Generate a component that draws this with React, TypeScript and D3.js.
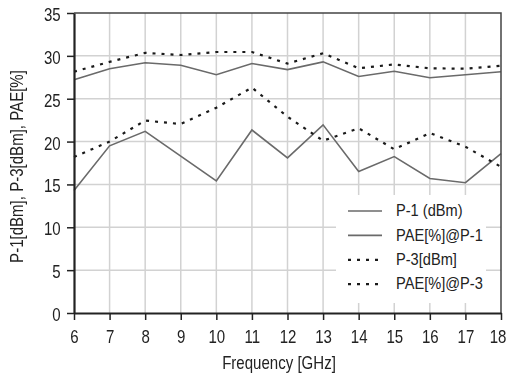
import React, { useEffect, useRef } from 'react';
import * as d3 from 'd3';

const freqs = [6, 7, 8, 9, 10, 11, 12, 13, 14, 15, 16, 17, 18];
const p1 = [27.2, 28.5, 29.2, 28.9, 27.8, 29.1, 28.4, 29.3, 27.6, 28.2, 27.45, 27.8, 28.15];
const paeP1 = [14.3, 19.5, 21.2, 18.3, 15.4, 21.35, 18.1, 21.95, 16.5, 18.25, 15.7, 15.2, 18.6];
const p3 = [28.15, 29.3, 30.35, 30.1, 30.45, 30.45, 29.1, 30.3, 28.55, 29.0, 28.55, 28.5, 28.85];
const paeP3 = [18.2, 20.0, 22.45, 22.05, 23.95, 26.3, 22.9, 20.1, 21.55, 19.1, 21.0, 19.4, 17.05];
const yTicks = [0, 5, 10, 15, 20, 25, 30, 35];
const seriesNames = ['P-1 (dBm)', 'PAE[%]@P-1', 'P-3[dBm]', 'PAE[%]@P-3'];

const FONT = '"Liberation Sans", Arial, sans-serif';
const SX = 0.86; // horizontal squeeze to mimic the narrow font

const App = () => {
  const svgRef = useRef<SVGSVGElement>(null);

  useEffect(() => {
    const width = 506;
    const height = 379;
    const margin = { top: 13, right: 5, bottom: 66, left: 74 };
    const innerWidth = width - margin.left - margin.right;
    const innerHeight = height - margin.top - margin.bottom;

    const svg = d3.select(svgRef.current);
    svg.selectAll('*').remove();
    svg.attr('width', width).attr('height', height);

    const g = svg.append('g').attr('transform', `translate(${margin.left},${margin.top})`);

    const xScale = d3.scaleLinear().domain([6, 18]).range([0, innerWidth]);
    const yScale = d3.scaleLinear().domain([0, 35]).range([innerHeight, 0]);

    // grid
    g.append('g')
      .selectAll('line')
      .data(freqs.slice(1, -1))
      .enter()
      .append('line')
      .attr('x1', d => xScale(d))
      .attr('x2', d => xScale(d))
      .attr('y1', 0)
      .attr('y2', innerHeight)
      .attr('stroke', '#d2d2d2')
      .attr('stroke-width', 1.5);

    g.append('g')
      .selectAll('line')
      .data(yTicks.slice(1, -1))
      .enter()
      .append('line')
      .attr('x1', 0)
      .attr('x2', innerWidth)
      .attr('y1', d => yScale(d))
      .attr('y2', d => yScale(d))
      .attr('stroke', '#d2d2d2')
      .attr('stroke-width', 1.5);

    const line = d3.line<number>()
      .x((d, i) => xScale(freqs[i]))
      .y(d => yScale(d));

    const series = [
      { values: p1, color: '#6a6a6a', dash: null, w: 1.6 },
      { values: paeP1, color: '#6a6a6a', dash: null, w: 1.6 },
      { values: p3, color: '#1a1a1a', dash: '3,6', w: 2.2 },
      { values: paeP3, color: '#1a1a1a', dash: '3,6', w: 2.2 },
    ];

    series.forEach(s => {
      g.append('path')
        .datum(s.values)
        .attr('fill', 'none')
        .attr('stroke', s.color)
        .attr('stroke-width', s.w)
        .attr('stroke-dasharray', s.dash)
        .attr('d', line);
    });

    // frame top/right
    g.append('path')
      .attr('d', `M0,0H${innerWidth}V${innerHeight}`)
      .attr('fill', 'none')
      .attr('stroke', '#444')
      .attr('stroke-width', 1.5);

    // legend
    const legend = g.append('g').attr('transform', `translate(${336 - margin.left}, ${195 - margin.top})`);
    legend.append('rect')
      .attr('x', 0)
      .attr('y', 0)
      .attr('width', 150)
      .attr('height', 108)
      .attr('fill', 'white');

    seriesNames.forEach((name, i) => {
      const s = series[i];
      const item = legend.append('g').attr('transform', `translate(12, ${16 + i * 24.4})`);
      item.append('line')
        .attr('x1', 0)
        .attr('x2', 34)
        .attr('stroke', s.color)
        .attr('stroke-width', s.w)
        .attr('stroke-dasharray', s.dash);
      item.append('text')
        .attr('transform', `translate(48,0) scale(${SX},1)`)
        .attr('dy', '0.3em')
        .style('font-family', FONT)
        .style('font-size', '17px')
        .attr('fill', '#222')
        .text(name);
    });

    // axes
    const xAxis = g.append('g')
      .attr('transform', `translate(0,${innerHeight})`)
      .call(d3.axisBottom(xScale).tickValues(freqs).tickFormat(d3.format('d')).tickSize(7).tickSizeOuter(0));
    xAxis.select('.domain').attr('stroke', '#222').attr('stroke-width', 2.2);
    xAxis.selectAll('.tick line').attr('stroke', '#222').attr('stroke-width', 1.5);
    xAxis.selectAll('text')
      .attr('y', 30.5)
      .attr('dy', 0)
      .attr('x', (d: any) => (+d === 18 ? -3.5 / SX : 0))
      .attr('transform', `scale(${SX},1)`)
      .style('font-family', FONT)
      .style('font-size', '17.5px')
      .attr('fill', '#222');

    const yAxis = g.append('g')
      .call(d3.axisLeft(yScale).tickValues(yTicks).tickSize(7).tickSizeOuter(0));
    yAxis.select('.domain').attr('stroke', '#222').attr('stroke-width', 2.2);
    yAxis.selectAll('.tick line').attr('stroke', '#222').attr('stroke-width', 1.5);
    yAxis.selectAll('text')
      .attr('x', -13.3 / SX)
      .attr('dy', '0.43em')
      .attr('transform', `scale(${SX},1)`)
      .style('font-family', FONT)
      .style('font-size', '17.5px')
      .attr('fill', '#222');

    // axis labels
    svg.append('text')
      .attr('transform', `translate(22.5, 166.5) rotate(-90) scale(${SX},1)`)
      .style('text-anchor', 'middle')
      .style('font-family', FONT)
      .style('font-size', '17.5px')
      .attr('fill', '#222')
      .text('P-1[dBm], P-3[dBm], PAE[%]');

    svg.append('text')
      .attr('transform', `translate(279, 369.3) scale(${SX},1)`)
      .style('text-anchor', 'middle')
      .style('font-family', FONT)
      .style('font-size', '17.5px')
      .attr('fill', '#222')
      .text('Frequency [GHz]');
  }, []);

  return (
    <div>
      <svg ref={svgRef} style={{ position: 'fixed', left: 0, top: 0, display: 'block' }}></svg>
    </div>
  );
};

export default App;
